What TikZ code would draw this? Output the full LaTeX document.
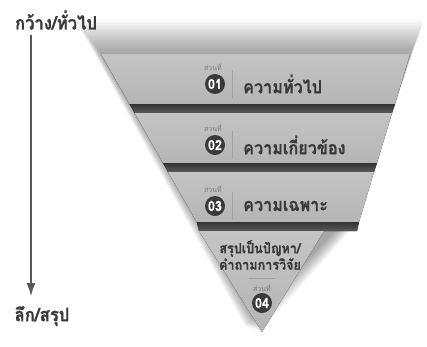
\documentclass[tikz,border=0pt]{standalone}
\usepackage{fontspec}
\newfontfamily\thai[Script=Thai]{Loma}
\newfontfamily\thaihv[Script=Thai,BoldFeatures={FakeBold=0.8,FakeStretch=0.9}]{Loma}
\usetikzlibrary{calc,arrows.meta}
\definecolor{bandlight}{HTML}{B5B5B5}
\definecolor{bandtop}{HTML}{C4C4C4}
\definecolor{stripdark}{HTML}{333333}
\definecolor{stripmid}{HTML}{5A5A5A}
\definecolor{inkdark}{HTML}{3A3A3A}
\definecolor{inkgray}{HTML}{7A7A7A}
\begin{document}
\begin{tikzpicture}[x=1pt,y=-1pt,
  band/.style={top color=bandtop,bottom color=bandlight},
  strip/.style={top color=stripdark,bottom color=stripmid},
  numcirc/.style={circle,fill=inkdark,minimum size=20pt,inner sep=0pt,text=white,font=\thaihv\bfseries\fontsize{14}{14}\selectfont},
  partlbl/.style={text=inkgray,font=\thai\fontsize{7}{7}\selectfont,inner sep=0pt},
  bandtxt/.style={text=inkdark,font=\thaihv\bfseries\fontsize{18}{18}\selectfont,anchor=west,inner sep=0pt},
  lasttxt/.style={text=inkdark,font=\thaihv\bfseries\fontsize{14}{16.5}\selectfont,align=center,inner sep=0pt},
  sidetxt/.style={text=inkdark,font=\thaihv\bfseries\fontsize{18.5}{18.5}\selectfont,inner sep=0pt},
  sep/.style={draw=inkgray!70,line width=0.8pt},
  axisarrow/.style={draw=inkdark!85,line width=1.1pt,-{Latex[length=13pt,width=9pt]}}
]
\useasboundingbox (0,0) rectangle (427,346);
\fill[white] (0,0) rectangle (427,346);
% outline points: left edge
\coordinate (L0) at (101,54);
\coordinate (La) at (129.5,104);
\coordinate (Lb) at (134.6,113);
\coordinate (Lc) at (163,163);
\coordinate (Ld) at (168,172);
\coordinate (Le) at (196.8,222);
\coordinate (Lf) at (199,231);
% right edge
\coordinate (R0) at (410,54);
\coordinate (Ra) at (395,104);
\coordinate (Rb) at (392,113);
\coordinate (Rc) at (377,163);
\coordinate (Rd) at (374,172);
\coordinate (Re) at (359,222);
\coordinate (Rf) at (357,231);
\coordinate (Tf) at (324,231);
\coordinate (T) at (262,332);
% soft shadow
\foreach \i in {1,...,14}{
  \fill[black,opacity=0.026] ([shift={(-1.8*\i,-2.4*\i)}]L0) -- ([shift={(1.0*\i,-2.4*\i)}]R0) -- ([shift={(0,-1.2*\i)}]Re) -- ([shift={(-1.2*\i,-0.4*\i)}]T) -- cycle;
}
% bands
\fill[band] (L0) -- (R0) -- (Ra) -- (La) -- cycle;
\fill[strip] (La) -- (Ra) -- (Rb) -- (Lb) -- cycle;
\fill[band] (Lb) -- (Rb) -- (Rc) -- (Lc) -- cycle;
\fill[strip] (Lc) -- (Rc) -- (Rd) -- (Ld) -- cycle;
\fill[band] (Ld) -- (Rd) -- (Re) -- (Le) -- cycle;
\fill[strip] (Le) -- (Re) -- (Rf) -- (Lf) -- cycle;
\fill[band] (Lf) -- (Tf) -- (T) -- cycle;
% band 1
\node[partlbl] (p1) at (213,67) {ส่วนที่};
\node[numcirc] (c1) at (215,84) {01};
\draw[sep] (232,70) -- (232,98);
\node[bandtxt] (t1) at (243,84) {ความทั่วไป};
% band 2
\node[partlbl] (p2) at (213,128) {ส่วนที่};
\node[numcirc] (c2) at (215,145) {02};
\draw[sep] (232,131) -- (232,159);
\node[bandtxt] (t2) at (243,145) {ความเกี่ยวข้อง};
% band 3
\node[partlbl] (p3) at (213,189) {ส่วนที่};
\node[numcirc] (c3) at (215,206) {03};
\draw[sep] (232,192) -- (232,220);
\node[bandtxt] (t3) at (243,206) {ความเฉพาะ};
% band 4
\node[lasttxt] (t4) at (260,255) {สรุปเป็นปัญหา/\\คำถามการวิจัย};
\draw[sep] (249,278) -- (275,278);
\node[partlbl] (p4) at (262,288) {ส่วนที่};
\node[numcirc] (c4) at (262,303) {04};
% axis
\node[sidetxt] (top) at (56,20) {กว้าง/ทั่วไป};
\node[sidetxt] (bot) at (42,316) {ลึก/สรุป};
\coordinate (a0) at (31,35);
\coordinate (a1) at (31,296);
\draw[axisarrow] (a0) -- (a1);
\end{tikzpicture}
\end{document}
